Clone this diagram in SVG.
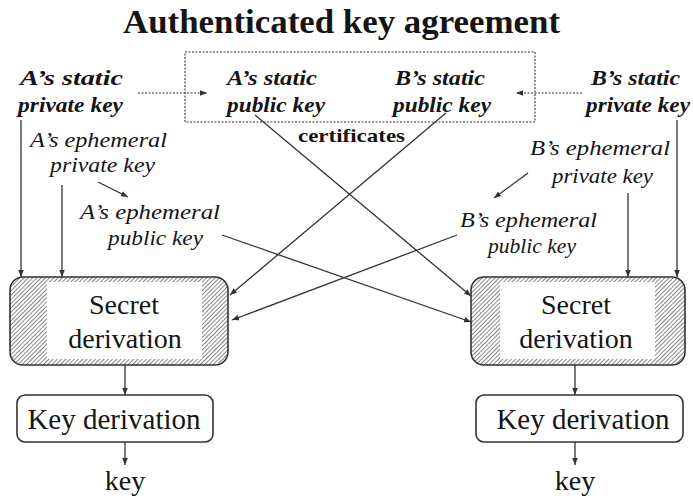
<svg xmlns="http://www.w3.org/2000/svg" width="693" height="502" viewBox="0 0 693 502">
<defs>
<style>
.t{font-family:"Liberation Serif","Times New Roman",serif;fill:#151515}
.bi{font-weight:bold;font-style:italic;font-size:21px}
.it{font-style:italic;font-size:20px}
.big{font-size:28px}
.ln{stroke:#333;stroke-width:1.3;fill:none}
.dot{stroke:#333;stroke-width:1.1;fill:none;stroke-dasharray:2 1.5}
.box{stroke:#333;stroke-width:1.6}
</style>
<marker id="ah" viewBox="0 0 10 10" refX="10" refY="5" markerWidth="7" markerHeight="7" orient="auto" markerUnits="userSpaceOnUse">
<path d="M0,1 L10,5 L0,9 z" fill="#333"/>
</marker>
<pattern id="hatch" width="3" height="3" patternUnits="userSpaceOnUse" patternTransform="rotate(45)">
<rect width="3" height="3" fill="#fff"/>
<line x1="0" y1="0" x2="0" y2="3" stroke="#444" stroke-width="1.3"/>
</pattern>
</defs>
<rect width="693" height="502" fill="#fff"/>

<text id="title" class="t" x="123" y="33" font-size="33" font-weight="bold" textLength="437" lengthAdjust="spacingAndGlyphs">Authenticated key agreement</text>

<g id="certificates">
<rect x="185" y="52" width="350" height="70" class="dot"/>
<text class="t" x="298" y="142" font-size="19" font-weight="bold" textLength="107" lengthAdjust="spacingAndGlyphs">certificates</text>
</g>

<g id="a-static-private">
<text class="t bi" x="20" y="85" textLength="103" lengthAdjust="spacingAndGlyphs">A’s static</text>
<text class="t bi" x="18" y="112" textLength="105" lengthAdjust="spacingAndGlyphs">private key</text>
</g>
<g id="a-static-public">
<text class="t bi" x="227" y="85" textLength="90" lengthAdjust="spacingAndGlyphs">A’s static</text>
<text class="t bi" x="227" y="112" textLength="98" lengthAdjust="spacingAndGlyphs">public key</text>
</g>
<g id="b-static-public">
<text class="t bi" x="395" y="85" textLength="90" lengthAdjust="spacingAndGlyphs">B’s static</text>
<text class="t bi" x="393" y="112" textLength="98" lengthAdjust="spacingAndGlyphs">public key</text>
</g>
<g id="b-static-private">
<text class="t bi" x="591" y="85" textLength="89" lengthAdjust="spacingAndGlyphs">B’s static</text>
<text class="t bi" x="586" y="112" textLength="104" lengthAdjust="spacingAndGlyphs">private key</text>
</g>

<g id="a-eph-private">
<text class="t it" x="30" y="147" textLength="137" lengthAdjust="spacingAndGlyphs">A’s ephemeral</text>
<text class="t it" x="50" y="172" textLength="105" lengthAdjust="spacingAndGlyphs">private key</text>
</g>
<g id="a-eph-public">
<text class="t it" x="80" y="219" textLength="140" lengthAdjust="spacingAndGlyphs">A’s ephemeral</text>
<text class="t it" x="108" y="245" textLength="95" lengthAdjust="spacingAndGlyphs">public key</text>
</g>
<g id="b-eph-private">
<text class="t it" x="530" y="155" textLength="140" lengthAdjust="spacingAndGlyphs">B’s ephemeral</text>
<text class="t it" x="552" y="183" textLength="101" lengthAdjust="spacingAndGlyphs">private key</text>
</g>
<g id="b-eph-public">
<text class="t it" x="460" y="227" textLength="137" lengthAdjust="spacingAndGlyphs">B’s ephemeral</text>
<text class="t it" x="488" y="253" textLength="88" lengthAdjust="spacingAndGlyphs">public key</text>
</g>

<g id="a-secret">
<rect x="10" y="277" width="218" height="88" rx="13" fill="url(#hatch)" class="box"/>
<rect x="47" y="282" width="155" height="77" fill="#fff"/>
<text class="t big" x="124" y="314" text-anchor="middle">Secret</text>
<text class="t big" x="125" y="348" text-anchor="middle">derivation</text>
</g>
<g id="b-secret">
<rect x="471" y="277" width="214" height="88" rx="13" fill="url(#hatch)" class="box"/>
<rect x="500" y="282" width="155" height="77" fill="#fff"/>
<text class="t big" x="576" y="314" text-anchor="middle">Secret</text>
<text class="t big" x="576" y="348" text-anchor="middle">derivation</text>
</g>
<g id="a-keyder">
<rect x="17" y="395" width="196" height="47" rx="8" fill="#fff" class="box" stroke-width="1.3"/>
<text class="t" x="114" y="429" font-size="29" text-anchor="middle">Key derivation</text>
</g>
<g id="b-keyder">
<rect x="476" y="395" width="207" height="47" rx="8" fill="#fff" class="box" stroke-width="1.3"/>
<text class="t" x="583" y="429" font-size="29" text-anchor="middle">Key derivation</text>
</g>
<g id="a-key"><text class="t big" x="125" y="490" text-anchor="middle">key</text></g>
<g id="b-key"><text class="t big" x="575" y="490" text-anchor="middle">key</text></g>

<g id="connectors">
<line class="dot" x1="138" y1="93" x2="207" y2="93" marker-end="url(#ah)"/>
<line class="dot" x1="582" y1="93" x2="516" y2="93" marker-end="url(#ah)"/>
<line class="ln" x1="21" y1="120" x2="21" y2="277" marker-end="url(#ah)"/>
<line class="ln" x1="62" y1="185" x2="62" y2="277" marker-end="url(#ah)"/>
<line class="ln" x1="98" y1="182" x2="128" y2="197" marker-end="url(#ah)"/>
<line class="ln" x1="528" y1="173" x2="494" y2="198" marker-end="url(#ah)"/>
<line class="ln" x1="628" y1="193" x2="628" y2="277" marker-end="url(#ah)"/>
<line class="ln" x1="677" y1="120" x2="677" y2="277" marker-end="url(#ah)"/>
<line class="ln" x1="255" y1="115" x2="471" y2="296" marker-end="url(#ah)"/>
<line class="ln" x1="446" y1="113" x2="230" y2="295" marker-end="url(#ah)"/>
<line class="ln" x1="222" y1="235" x2="471" y2="322" marker-end="url(#ah)"/>
<line class="ln" x1="457" y1="235" x2="232" y2="320" marker-end="url(#ah)"/>
<line class="ln" x1="125" y1="365" x2="125" y2="395" marker-end="url(#ah)"/>
<line class="ln" x1="575" y1="365" x2="575" y2="395" marker-end="url(#ah)"/>
<line class="ln" x1="125" y1="442" x2="125" y2="465" marker-end="url(#ah)"/>
<line class="ln" x1="575" y1="442" x2="575" y2="465" marker-end="url(#ah)"/>
</g>
</svg>
